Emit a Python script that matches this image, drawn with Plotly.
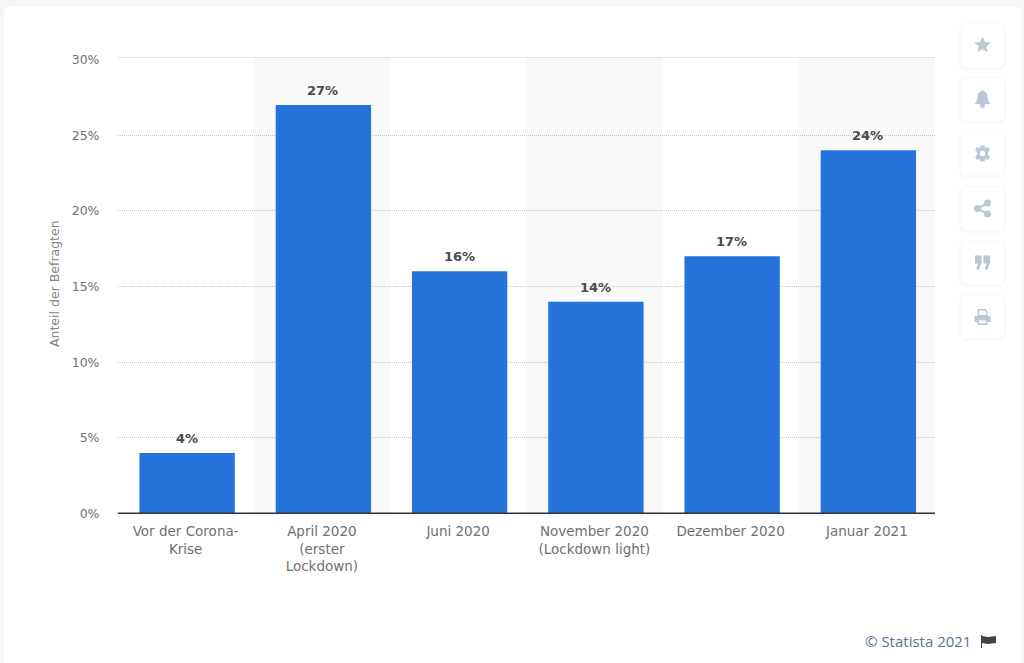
import plotly.graph_objects as go

categories = ["Vor der Corona-<br>Krise", "April 2020<br>(erster<br>Lockdown)", "Juni 2020",
              "November 2020<br>(Lockdown light)", "Dezember 2020", "Januar 2021"]
values = [4, 27, 16, 14, 17, 24]
y_ticks = [0, 5, 10, 15, 20, 25, 30]
y_tick_labels = ["0%", "5%", "10%", "15%", "20%", "25%", "30%"]

W, H = 1024, 663
PX, PY = lambda v: v / W, lambda v: 1 - v / H
FONT = "DejaVu Sans"
BAR_WIDTH = 0.7
BAR_NUDGE = 0.011


def rrect(x0, y0, x1, y1, r):
    a, b, c, d = PX(x0), PX(x1), PY(y0), PY(y1)
    rx, ry = r / W, r / H
    return (f"M{a+rx},{c} L{b-rx},{c} Q{b},{c} {b},{c-ry} L{b},{d+ry} Q{b},{d} {b-rx},{d} "
            f"L{a+rx},{d} Q{a},{d} {a},{d+ry} L{a},{c-ry} Q{a},{c} {a+rx},{c} Z")


def poly(points, cx, cy):
    return "M" + " L".join(f"{PX(cx+x)},{PY(cy+y)}" for x, y in points) + " Z"


def page_shape(path, color):
    return dict(type="path", xref="paper", yref="paper", path=path, fillcolor=color,
                line=dict(width=0), layer="below")


def circle(cx, cy, r, color):
    return dict(type="circle", xref="paper", yref="paper", x0=PX(cx-r), x1=PX(cx+r),
                y0=PY(cy+r), y1=PY(cy-r), fillcolor=color, line=dict(width=0), layer="above")


def icon(path, color="#bcc7d5"):
    return dict(type="path", xref="paper", yref="paper", path=path, fillcolor=color,
                line=dict(width=0), layer="above")


shapes = [page_shape(rrect(4, 6, 1021, 690, 7), "#ffffff")]

# bands behind alternate categories
for i in range(1, len(categories), 2):
    shapes.append(dict(type="rect", xref="x", yref="paper", x0=i-0.5, x1=i+0.5, y0=PY(513), y1=PY(58),
                       fillcolor="#f9f9f9", line=dict(width=0), layer="below"))
# top gridline sits slightly above the 30% position in the reference
shapes.append(dict(type="line", xref="x", yref="paper", x0=-0.5, x1=5.5, y0=PY(57.5), y1=PY(57.5),
                   line=dict(color="#c4c4c4", width=1, dash="1px,1px"), layer="below"))
# baseline
shapes.append(dict(type="line", xref="x", yref="paper", x0=-0.5, x1=5.5, y0=PY(513.2), y1=PY(513.2),
                   line=dict(color="#333333", width=1.5), layer="above"))

# side buttons
button_tops = [24, 78, 132, 187, 241, 295]
for t in button_tops:
    shapes.append(page_shape(rrect(959, t-1, 1006, t+46, 8), "#f8f9fb"))
    shapes.append(page_shape(rrect(961, t, 1004, t+43, 6), "#ffffff"))

ICX = 982.5
star = [(0, -8.5), (2.4, -3), (8.3, -2.5), (3.8, 1.4), (5.2, 7.3), (0, 4.2), (-5.2, 7.3), (-3.8, 1.4), (-8.3, -2.5), (-2.4, -3)]
shapes.append(icon(poly(star, ICX, 45)))
bell = [(0, -9), (2, -7.5), (4.5, -5.5), (5.2, -1), (6, 2.5), (8, 5), (-8, 5), (-6, 2.5), (-5.2, -1), (-4.5, -5.5), (-2, -7.5)]
shapes.append(icon(poly(bell, ICX, 99)))
shapes.append(circle(ICX, 105.5, 2.5, "#bcc7d5"))
gear = [(-2, -8), (2, -8), (2.6, -5.6), (5.4, -6.6), (7.4, -3.4), (5.6, -1.6), (5.6, 1.6), (7.4, 3.4), (5.4, 6.6), (2.6, 5.6),
        (2, 8), (-2, 8), (-2.6, 5.6), (-5.4, 6.6), (-7.4, 3.4), (-5.6, 1.6), (-5.6, -1.6), (-7.4, -3.4), (-5.4, -6.6), (-2.6, -5.6)]
shapes.append(icon(poly(gear, ICX, 153.5)))
shapes.append(circle(ICX, 153.5, 2.7, "#ffffff"))
shapes.append(dict(type="path", xref="paper", yref="paper", layer="above",
                   path=f"M{PX(ICX+5)},{PY(203)} L{PX(ICX-5)},{PY(208.5)} L{PX(ICX+5)},{PY(214)}",
                   line=dict(color="#bcc7d5", width=2)))
for cx, cy, r in [(ICX+5, 203, 3.5), (ICX-5, 208.5, 3.5), (ICX+5, 214, 3.5)]:
    shapes.append(circle(cx, cy, r, "#bcc7d5"))
quote = [(-7.5, -7), (-0.8, -7), (-0.8, 0), (-3.5, 7), (-6.5, 7), (-4.5, 1), (-7.5, 1)]
shapes.append(icon(poly(quote, ICX, 262.5)))
shapes.append(icon(poly([(x + 8.5, y) for x, y in quote], ICX, 262.5)))
shapes.append(icon(poly([(-8, -1), (8, -1), (8, 5), (5, 5), (5, 8), (-5, 8), (-5, 5), (-8, 5)], ICX, 317)))
shapes.append(icon(poly([(-5, -8), (3, -8), (5, -5), (5, -1), (-5, -1)], ICX, 317)))
shapes.append(icon(poly([(-3.5, -6.5), (2.5, -6.5), (3.5, -4.8), (3.5, -2), (-3.5, -2)], ICX, 317), "#ffffff"))
shapes.append(icon(poly([(-3.5, 3.5), (3.5, 3.5), (3.5, 6.5), (-3.5, 6.5)], ICX, 317), "#ffffff"))

# flag next to the source line
shapes.append(icon(poly([(981, 635), (982, 635), (982, 648), (981, 648)], 0, 0), "#444444"))
shapes.append(icon(poly([(982, 636), (988, 637), (996, 636), (996, 643), (988, 644), (982, 643)], 0, 0), "#444444"))

fig = go.Figure(go.Bar(
    x=list(range(len(categories))), y=values, width=BAR_WIDTH, offset=-BAR_WIDTH/2 + BAR_NUDGE,
    marker=dict(color="#2574dc", line=dict(width=0)),
    cliponaxis=False,
))

value_labels = [
    dict(text=f"{v}%", x=i + BAR_NUDGE, y=v, xref="x", yref="y", yanchor="middle", yshift=14.5, xshift=-0.5,
         showarrow=False, font=dict(family=FONT, size=13, color="#4a4a4a", weight="bold"))
    for i, v in enumerate(values)
]

fig.update_layout(
    width=W, height=H, autosize=False,
    margin=dict(l=0, r=0, t=0, b=0, pad=0),
    paper_bgcolor="#f4f6f9", plot_bgcolor="rgba(0,0,0,0)",
    showlegend=False, shapes=shapes, bargap=0.3,
    font=dict(family=FONT, size=13, color="#707070"),
    xaxis=dict(domain=[PX(117.5), PX(935)], range=[-0.5, 5.5], tickmode="array", automargin=False,
               tickvals=list(range(len(categories))), ticktext=categories,
               showgrid=False, zeroline=False, showline=False,
               ticks="", ticklabelstandoff=8, tickangle=0, tickfont=dict(size=13.5, color="#707070")),
    yaxis=dict(domain=[PY(513.5), PY(59.5)], range=[0, 30], tickmode="array", automargin=False,
               tickvals=y_ticks, ticktext=y_tick_labels,
               showgrid=True, gridcolor="#c4c4c4", griddash="1px,1px", gridwidth=1,
               zeroline=False, showline=False, ticks="", ticklabelstandoff=17,
               tickfont=dict(size=12.5, color="#707070")),
    annotations=value_labels + [
        dict(text="Anteil der Befragten", xref="paper", yref="paper", x=PX(54), y=PY(284),
             xanchor="center", yanchor="middle",
             textangle=-90, showarrow=False, font=dict(family=FONT, size=12.5, color="#808080")),
        dict(text="© Statista 2021", xref="paper", yref="paper", x=PX(973), y=PY(641),
             xanchor="right", yanchor="middle", showarrow=False,
             font=dict(family="Open Sans", size=15, color="#5a7291")),
    ],
)

fig.write_html("out.html", config=dict(displayModeBar=False),
               post_script="document.body.style.margin='0';document.body.style.overflow='hidden';")
